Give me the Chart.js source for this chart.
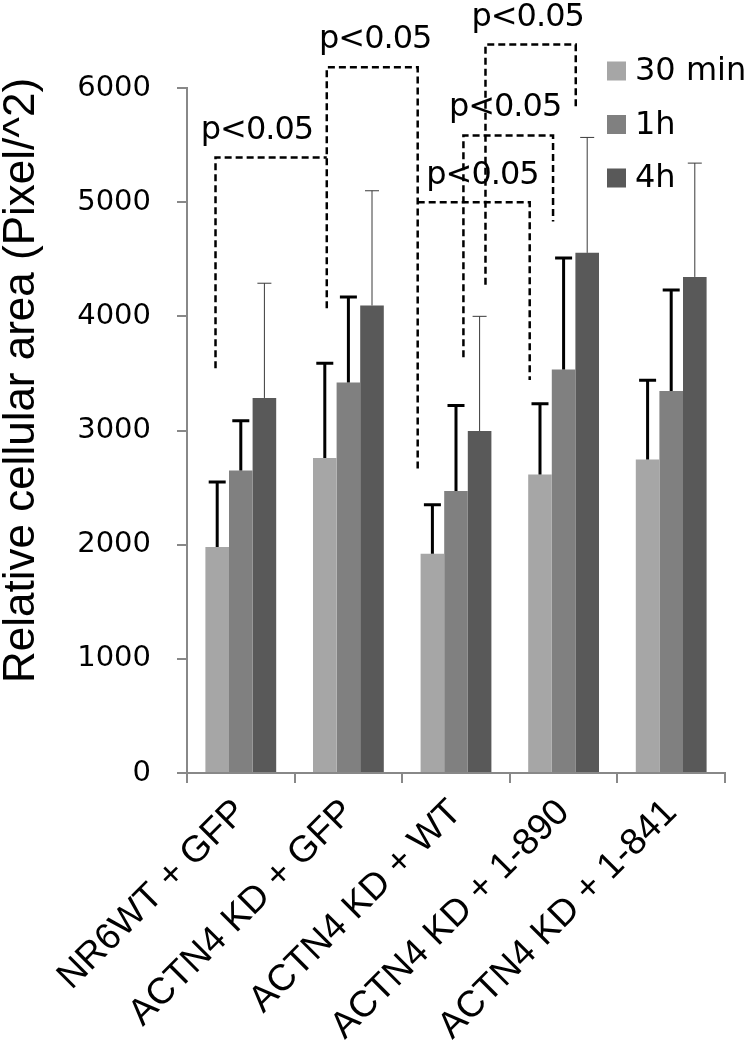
<!DOCTYPE html>
<html>
<head>
<meta charset="utf-8">
<script src="https://cdn.jsdelivr.net/npm/chart.js@4.4.1/dist/chart.umd.min.js"></script>
<style>
  html, body { margin: 0; padding: 0; background: #fff; }
  canvas { display: block; }
</style>
</head>
<body>
<canvas id="areaChart" width="745" height="1050"></canvas>
<script>
// groups on the x axis
const groups = ["NR6WT + GFP", "ACTN4 KD + GFP", "ACTN4 KD + WT", "ACTN4 KD + 1-890", "ACTN4 KD + 1-841"];
const seriesNames = ["30 min", "1h", "4h"];

// bar heights (Pixel/^2)
const min30 = [1980, 2760, 1920, 2615, 2745];
const hour1 = [2650, 3420, 2470, 3535, 3345];
const hour4 = [3285, 4095, 2995, 4556, 4345];

// top of the error bar for each bar
const min30Err = [2550, 3590, 2350, 3235, 3440];
const hour1Err = [3085, 4170, 3220, 4510, 4230];
const hour4Err = [4290, 5100, 4000, 5567, 5342];

const yTicks = [0, 1000, 2000, 3000, 4000, 5000, 6000];

// significance brackets, x in category units, y in data units
const bracketX1 = [-0.235, 0.799, 1.644, 2.069, 2.274];
const bracketX2 = [0.799, 1.644, 2.685, 2.902, 3.113];
const bracketTop = [5392, 6181, 5000, 5585, 6380];
const bracketLeftEnd = [3545, 4071, 5000, 3642, 4276];
const bracketRightEnd = [5392, 2654, 3443, 4831, 5816];
const pLabelX = [0.150, 1.249, 2.246, 2.456, 2.666];
const pLabelY = [5553, 6351, 5158, 5751, 6541];
const pLabelText = "p<0.05";

const colors = ["#a6a6a6", "#808080", "#595959"];
const axisGray = "#888888";

function drawErrorBars(chart) {
  const ctx = chart.ctx;
  const y = chart.scales.y;
  chart.data.datasets.forEach(function(ds, i) {
    const meta = chart.getDatasetMeta(i);
    ctx.save();
    ctx.strokeStyle = ds.errColor;
    ctx.lineWidth = ds.errWidth;
    meta.data.forEach(function(bar, j) {
      const top = y.getPixelForValue(ds.errTop[j]);
      ctx.beginPath();
      ctx.moveTo(bar.x, bar.y);
      ctx.lineTo(bar.x, top);
      ctx.moveTo(bar.x - ds.errCap, top);
      ctx.lineTo(bar.x + ds.errCap, top);
      ctx.stroke();
    });
    ctx.restore();
  });
}

function drawBrackets(chart) {
  const ctx = chart.ctx;
  const x = chart.scales.x;
  const y = chart.scales.y;
  ctx.save();
  ctx.strokeStyle = "#000";
  ctx.lineWidth = 2.5;
  ctx.setLineDash([7, 4]);
  for (let i = 0; i < bracketX1.length; i++) {
    const x1 = x.getPixelForValue(bracketX1[i]);
    const x2 = x.getPixelForValue(bracketX2[i]);
    const yt = y.getPixelForValue(bracketTop[i]);
    ctx.beginPath();
    ctx.moveTo(x1, y.getPixelForValue(bracketLeftEnd[i]));
    ctx.lineTo(x1, yt);
    ctx.lineTo(x2, yt);
    ctx.lineTo(x2, y.getPixelForValue(bracketRightEnd[i]));
    ctx.stroke();
  }
  ctx.setLineDash([]);
  ctx.fillStyle = "#000";
  ctx.font = "32px 'DejaVu Sans'";
  ctx.letterSpacing = "-1px";
  ctx.textAlign = "center";
  ctx.textBaseline = "alphabetic";
  for (let i = 0; i < pLabelX.length; i++) {
    ctx.fillText(pLabelText, x.getPixelForValue(pLabelX[i]), y.getPixelForValue(pLabelY[i]));
  }
  ctx.restore();
}

function drawLegend(chart) {
  const ctx = chart.ctx;
  ctx.save();
  ctx.font = "32px 'DejaVu Sans'";
  ctx.textBaseline = "middle";
  ctx.textAlign = "left";
  chart.data.datasets.forEach(function(ds, i) {
    const cy = 71 + i * 53.5;
    ctx.fillStyle = ds.backgroundColor;
    ctx.fillRect(607, cy - 9.5, 19, 19);
    ctx.fillStyle = "#000";
    ctx.fillText(ds.label, 635, cy + 1);
  });
  ctx.restore();
}

function drawYTitle(chart) {
  const ctx = chart.ctx;
  ctx.save();
  ctx.translate(33.5, 380.5);
  ctx.rotate(-Math.PI / 2);
  ctx.font = "44px 'Liberation Sans'";
  ctx.fillStyle = "#000";
  ctx.textAlign = "center";
  ctx.textBaseline = "alphabetic";
  ctx.fillText("Relative cellular area (Pixel/^2)", 0, 0);
  ctx.restore();
}

const extras = {
  id: "extras",
  afterDatasetsDraw: function(chart) { drawErrorBars(chart); },
  afterDraw: function(chart) {
    drawBrackets(chart);
    drawLegend(chart);
    drawYTitle(chart);
  }
};

const barData = [min30, hour1, hour4];
const errData = [min30Err, hour1Err, hour4Err];
const errStyle = [
  { color: "#000", width: 3, cap: 8.5 },
  { color: "#000", width: 3, cap: 8.5 },
  { color: "#3a3a3a", width: 1, cap: 7 }
];

new Chart(document.getElementById("areaChart").getContext("2d"), {
  type: "bar",
  data: {
    labels: groups,
    datasets: seriesNames.map(function(name, i) {
      return {
        label: name,
        data: barData[i],
        backgroundColor: colors[i],
        borderWidth: 0,
        categoryPercentage: 0.658,
        barPercentage: 1.0,
        errTop: errData[i],
        errColor: errStyle[i].color,
        errWidth: errStyle[i].width,
        errCap: errStyle[i].cap
      };
    })
  },
  options: {
    responsive: false,
    animation: false,
    layout: { padding: { left: 0, right: 20, top: 88, bottom: 0 } },
    plugins: {
      legend: { display: false },
      tooltip: { enabled: false }
    },
    scales: {
      x: {
        grid: { drawOnChartArea: false, drawTicks: true, tickLength: 10, color: axisGray, lineWidth: 2, offset: true },
        border: { display: true, color: axisGray, width: 2 },
        ticks: {
          color: "#000",
          font: { family: "'Liberation Sans'", size: 37 },
          minRotation: 45,
          maxRotation: 45,
          autoSkip: false,
          padding: 8
        },
        afterFit: function(scale) { scale.height = 277; }
      },
      y: {
        min: 0,
        max: 6000,
        afterBuildTicks: function(scale) {
          scale.ticks = yTicks.map(function(v) { return { value: v }; });
        },
        grid: { drawOnChartArea: false, drawTicks: true, tickLength: 10, color: axisGray, lineWidth: 2 },
        border: { display: true, color: axisGray, width: 2 },
        ticks: {
          color: "#000",
          font: { family: "'DejaVu Sans'", size: 29 },
          padding: 26,
          callback: function(v) { return String(v); }
        },
        afterFit: function(scale) { scale.width = 187; }
      }
    }
  },
  plugins: [extras]
});
</script>
</body>
</html>
